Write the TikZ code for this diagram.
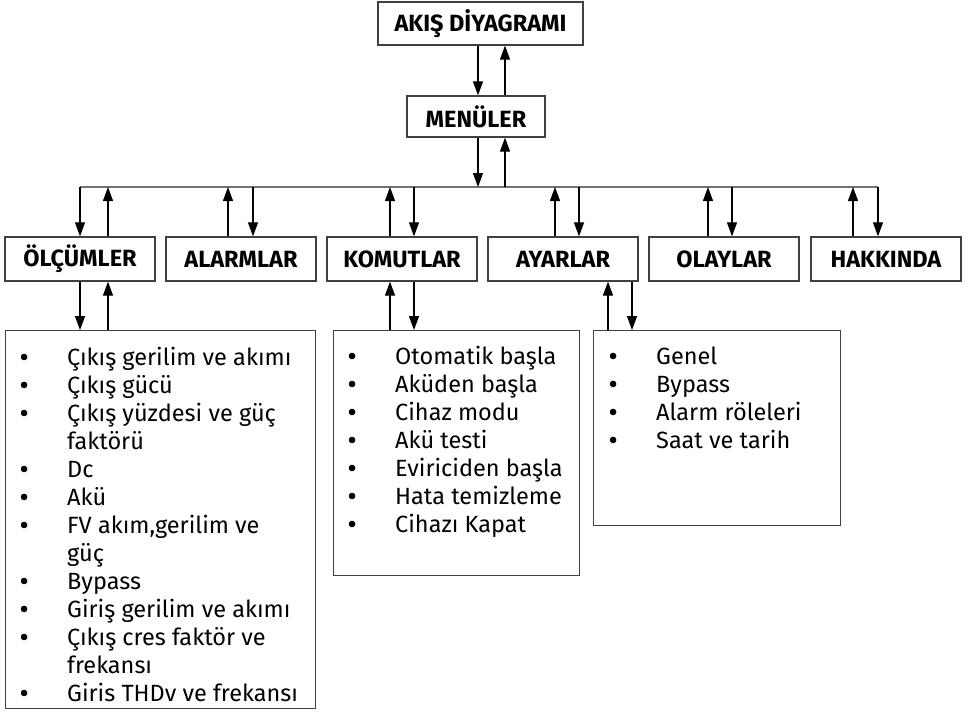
\documentclass[tikz,border=0pt]{standalone}
\usepackage{fontspec}
\setmainfont{Fira Sans}
\usetikzlibrary{arrows.meta}

\definecolor{kutugri}{gray}{0.25}
\definecolor{hatgri}{gray}{0.45}

\tikzset{
  kutu/.style={draw=kutugri, line width=1.3pt, minimum width=150pt, minimum height=44pt,
    inner sep=0pt, font=\bfseries\fontsize{23.5}{26}\selectfont},
  liste/.style={draw=kutugri, line width=1.3pt, anchor=north west, inner sep=0pt},
  yazi/.style={anchor=base west, inner sep=0pt, font=\fontsize{23.5}{28}\selectfont},
  ok/.style={line width=1.2pt, -{Triangle[length=14pt,width=10pt]}},
}

\newcommand{\madde}{\makebox[0pt]{\textbf{\textbullet}}\hspace{43pt}}
\newcommand{\devam}{\hspace{43pt}}

\begin{document}
\begin{tikzpicture}[x=1pt, y=-1pt]
  \useasboundingbox (0,0) rectangle (970,726);

  % --- Top ---
  \node[kutu, minimum width=205pt, minimum height=43pt] (akis) at (480.5,23.5) {AKIŞ DİYAGRAMI};
  \node[kutu, minimum width=138pt, minimum height=41pt] (menu) at (476,116.5) {MENÜLER};
  \draw[ok] ([xshift=-2.5pt]akis.south) -- ([xshift=-2.5pt]akis.south |- menu.north);
  \draw[ok] ([xshift=29pt]menu.north) -- ([xshift=29pt]menu.north |- akis.south);

  % --- Bus ---
  \coordinate (hatsol) at (80,187);
  \coordinate (hatsag) at (878,187);
  \draw[hatgri, line width=1.3pt] (hatsol) -- (hatsag);
  \draw[ok] ([xshift=2pt]menu.south) -- ([xshift=2pt]menu.south |- hatsol);
  \draw[ok] ([xshift=29pt]menu.south |- hatsol) -- ([xshift=29pt]menu.south);

  % --- Menu boxes ---
  \foreach \ad/\x/\etiket/\yukari/\asagi in {olcum/80/ÖLÇÜMLER/28/0, alarm/241/ALARMLAR/-13/12,
      komut/402/KOMUTLAR/-12/12, ayar/563/AYARLAR/-8/16, olay/724/OLAYLAR/-16/8,
      hakk/886/HAKKINDA/-33/-8} {
    \node[kutu] (\ad) at (\x,259) {\etiket};
    \draw[ok] ([xshift=\yukari pt]\ad.north) -- ([xshift=\yukari pt]\ad.north |- hatsol);
    \draw[ok] ([xshift=\asagi pt]\ad.north |- hatsol) -- ([xshift=\asagi pt]\ad.north);
  }

  % --- Lists ---
  \node[liste, minimum width=310pt, minimum height=378pt] (olcumkutu) at (5,330) {};
  \node[yazi] (olcumyazi) at ([xshift=19pt, yshift=-35pt]olcumkutu.north west) {%
    \begin{tabular}[t]{@{}l@{}}
      \madde Çıkış gerilim ve akımı\\
      \madde Çıkış gücü\\
      \madde Çıkış yüzdesi ve güç\\
      \devam faktörü\\
      \madde Dc\\
      \madde Akü\\
      \madde FV akım,gerilim ve\\
      \devam güç\\
      \madde Bypass\\
      \madde Giriş gerilim ve akımı\\
      \madde Çıkış cres faktör ve\\
      \devam frekansı\\
      \madde Giris THDv ve frekansı
    \end{tabular}};

  \node[liste, minimum width=246pt, minimum height=245pt] (komutkutu) at (333,330) {};
  \node[yazi] (komutyazi) at ([xshift=19pt, yshift=-34pt]komutkutu.north west) {%
    \begin{tabular}[t]{@{}l@{}}
      \madde Otomatik başla\\
      \madde Aküden başla\\
      \madde Cihaz modu\\
      \madde Akü testi\\
      \madde Eviriciden başla\\
      \madde Hata temizleme\\
      \madde Cihazı Kapat
    \end{tabular}};

  \node[liste, minimum width=247pt, minimum height=195pt] (ayarkutu) at (593,330) {};
  \node[yazi] (ayaryazi) at ([xshift=20pt, yshift=-34pt]ayarkutu.north west) {%
    \begin{tabular}[t]{@{}l@{}}
      \madde Genel\\
      \madde Bypass\\
      \madde Alarm röleleri\\
      \madde Saat ve tarih
    \end{tabular}};

  % --- List arrows ---
  \draw[ok] (olcum.south) -- (olcum.south |- olcumkutu.north);
  \draw[ok] ([xshift=28pt]olcum.south |- olcumkutu.north) -- ([xshift=28pt]olcum.south);
  \draw[ok] ([xshift=-12pt]komut.south |- komutkutu.north) -- ([xshift=-12pt]komut.south);
  \draw[ok] ([xshift=12pt]komut.south) -- ([xshift=12pt]komut.south |- komutkutu.north);
  \draw[ok] ([xshift=45pt]ayar.south |- ayarkutu.north) -- ([xshift=45pt]ayar.south);
  \draw[ok] ([xshift=69pt]ayar.south) -- ([xshift=69pt]ayar.south |- ayarkutu.north);

\end{tikzpicture}
\end{document}
